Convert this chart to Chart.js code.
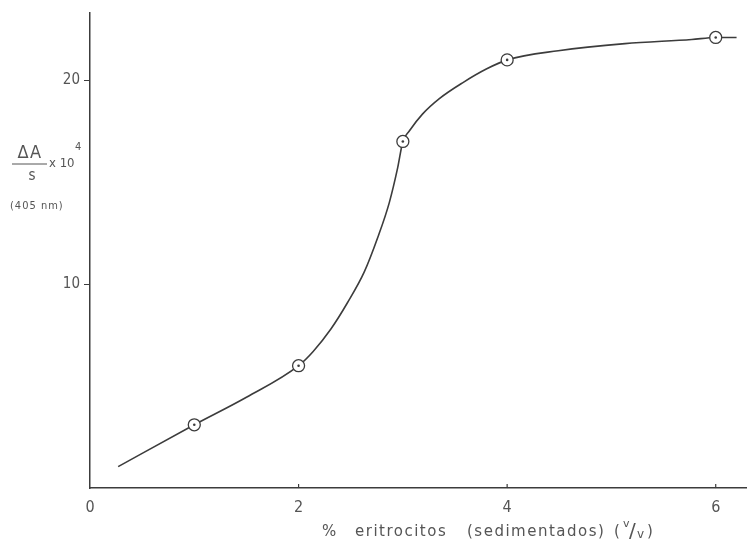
<!DOCTYPE html>
<html>
<head>
<meta charset="utf-8">
<script src="https://cdn.jsdelivr.net/npm/chart.js@4/dist/chart.umd.min.js"></script>
<style>
  html, body { margin: 0; padding: 0; background: #fff; }
  #wrap { width: 747px; height: 549px; }
</style>
</head>
<body>
<div id="wrap"><canvas id="chart"></canvas></div>
<script>
// measured points (% erythrocytes, dA/s x 10^4)
const pointX = [1, 2, 3, 4, 6];
const pointY = [3.1, 6.0, 17.0, 21.0, 22.1];

// hand-drawn curve
const curveX = [0.27, 1, 1.5, 2, 2.14, 2.31, 2.47, 2.63, 2.76, 2.87, 2.95, 3, 3.06, 3.19, 3.35, 3.58, 3.8, 4, 4.49, 5.13, 5.77, 6, 6.2];
const curveY = [1.05, 3.1, 4.45, 6.0, 6.7, 7.8, 9.1, 10.6, 12.3, 14.0, 15.7, 17.0, 17.5, 18.35, 19.1, 19.9, 20.55, 21.0, 21.45, 21.8, 22.0, 22.1, 22.1];

const xTicks = [0, 2, 4, 6];
const yTicks = [10, 20];
const xTitleWords = ['%', 'eritrocitos', '(sedimentados)', '('];
const xTitleUnit = ['v', '/', 'v', ')'];

const ink = '#3c3c3c';
const textInk = '#555';
const font = '"DejaVu Sans Condensed", "Liberation Sans Narrow", "DejaVu Sans", sans-serif';
const titleFont = '"DejaVu Sans", sans-serif';

const toXY = (xs, ys) => xs.map((x, i) => ({ x, y: ys[i] }));

// x title, words placed where the typewriter put them
const drawXTitle = (ctx) => {
  const wordLeft = [322, 355, 467, 614];
  const base = 536;
  ctx.textAlign = 'left';
  ctx.textBaseline = 'alphabetic';
  ctx.font = `15px ${titleFont}`;
  ctx.letterSpacing = '1.5px';
  xTitleWords.forEach((w, i) => ctx.fillText(w, wordLeft[i], base));
  ctx.letterSpacing = '0px';
  ctx.font = `11px ${titleFont}`;
  ctx.fillText(xTitleUnit[0], 623, 527);
  ctx.font = `20px ${titleFont}`;
  ctx.fillText(xTitleUnit[1], 629, base + 1);
  ctx.font = `12px ${titleFont}`;
  ctx.fillText(xTitleUnit[2], 637, base + 2);
  ctx.font = `15px ${titleFont}`;
  ctx.fillText(xTitleUnit[3], 647, base);
};

// labels and the small inward ticks on the x axis
const annotate = {
  id: 'annotate',
  afterDraw(chart) {
    const { ctx, scales: { x, y } } = chart;
    ctx.save();
    ctx.strokeStyle = ink;
    ctx.lineWidth = 1.2;
    xTicks.slice(1).forEach((v) => {
      const px = x.getPixelForValue(v);
      ctx.beginPath();
      ctx.moveTo(px, y.bottom);
      ctx.lineTo(px, y.bottom - 4);
      ctx.stroke();
    });

    ctx.fillStyle = textInk;
    drawXTitle(ctx);

    // y label: dA / s x 10^4
    ctx.textBaseline = 'middle';
    ctx.textAlign = 'center';
    ctx.font = `18px ${font}`;
    ctx.letterSpacing = '1.5px';
    ctx.fillText('ΔA', 30, 153);
    ctx.letterSpacing = '0px';
    ctx.font = `15px ${font}`;
    ctx.fillText('s', 32, 176);
    ctx.beginPath();
    ctx.strokeStyle = textInk;
    ctx.lineWidth = 1;
    ctx.moveTo(12, 164);
    ctx.lineTo(47, 164);
    ctx.stroke();
    ctx.textAlign = 'left';
    ctx.font = `13px ${font}`;
    ctx.fillText('x 10', 49, 164);
    ctx.font = `11px ${font}`;
    ctx.fillText('4', 75, 147);
    ctx.letterSpacing = '1px';
    ctx.fillText('(405 nm)', 10, 206);
    ctx.restore();
  },
};

new Chart(document.getElementById('chart'), {
  type: 'scatter',
  data: {
    datasets: [
      {
        label: 'centro',
        data: toXY(pointX, pointY),
        pointRadius: 1.3,
        pointBackgroundColor: ink,
        pointBorderWidth: 0,
        showLine: false,
      },
      {
        label: 'medidas',
        data: toXY(pointX, pointY),
        pointRadius: 6,
        pointBackgroundColor: '#fff',
        pointBorderColor: ink,
        pointBorderWidth: 1.3,
        showLine: false,
      },
      {
        label: 'curva',
        data: toXY(curveX, curveY),
        showLine: true,
        borderColor: ink,
        borderWidth: 1.6,
        pointRadius: 0,
        cubicInterpolationMode: 'monotone',
      },
    ],
  },
  options: {
    responsive: true,
    maintainAspectRatio: false,
    animation: false,
    layout: { autoPadding: false, padding: { top: 8, right: 0, bottom: 0, left: 0 } },
    plugins: { legend: { display: false }, tooltip: { enabled: false } },
    scales: {
      x: {
        type: 'linear',
        min: 0,
        max: 6.3,
        afterBuildTicks: (s) => { s.ticks = xTicks.map((value) => ({ value })); },
        afterFit: (s) => { s.height = 61; },
        border: { color: ink, width: 1.5 },
        grid: { display: true, drawOnChartArea: false, tickLength: 0 },
        ticks: { color: textInk, font: { family: font, size: 16 }, padding: 10, maxRotation: 0 },
      },
      y: {
        type: 'linear',
        min: 0,
        max: 23.3,
        afterBuildTicks: (s) => { s.ticks = yTicks.map((value) => ({ value })); },
        afterFit: (s) => { s.width = 90; },
        border: { color: ink, width: 1.5 },
        grid: { display: true, drawOnChartArea: false, tickLength: 6, color: ink },
        ticks: { color: textInk, font: { family: font, size: 15 }, padding: 4 },
      },
    },
  },
  plugins: [annotate],
});
</script>
</body>
</html>
